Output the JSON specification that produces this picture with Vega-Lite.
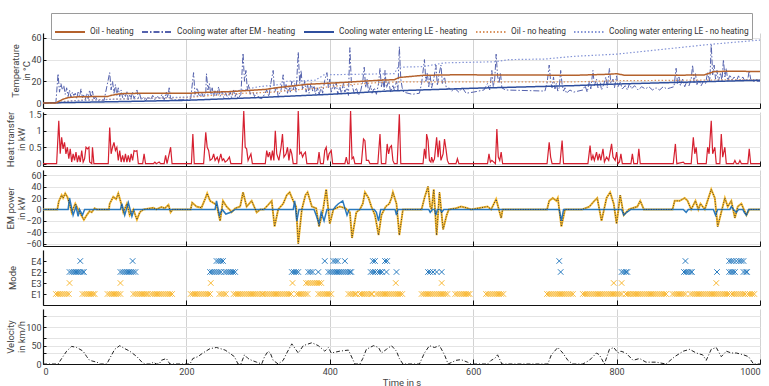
{
"$schema": "https://vega.github.io/schema/vega-lite/v6.json",
"padding": {"left": 5, "top": 12, "right": 0, "bottom": 0},
"spacing": 4,
"bounds": "flush",
"config": {
  "font": "Roboto, sans-serif",
  "view": {"stroke": null},
  "axis": {"labelFontSize": 9, "titleFontSize": 9.5, "titleFontWeight": "normal", "labelColor": "#444", "titleColor": "#444", "domainColor": "#111", "domainWidth": 1.2, "tickColor": "#111", "gridColor": "#e4e4e4"},
  "axisY": {"tickSize": -3, "labelPadding": 5, "titleBaseline": "alphabetic", "titleLineHeight": 11},
  "axisX": {"tickSize": -5, "labelPadding": 8, "gridColor": "#d2d2d2"}
},
"resolve": {"scale": {"color": "independent", "strokeDash": "independent"}, "legend": {"color": "independent", "strokeDash": "independent"}},
"datasets": {
  "emY": [
{"t":0,"v":0},{"t":20,"v":0},{"t":22,"v":14},{"t":26,"v":25},{"t":28,"v":20},{"t":31,"v":28},{"t":34,"v":22},{"t":37,"v":10},{"t":40,"v":-5},{"t":45,"v":10},{"t":51,"v":-5},{"t":57,"v":-18},{"t":61,"v":-10},{"t":65,"v":-3},{"t":68,"v":-5},{"t":72,"v":2},{"t":75,"v":0},{"t":92,"v":0},{"t":93,"v":10},{"t":98,"v":22},{"t":102,"v":18},{"t":105,"v":28},{"t":108,"v":15},{"t":112,"v":-5},{"t":117,"v":10},{"t":121,"v":-10},{"t":126,"v":0},{"t":131,"v":-18},{"t":135,"v":-5},{"t":140,"v":0},{"t":154,"v":3},{"t":158,"v":0},{"t":165,"v":4},{"t":170,"v":2},{"t":175,"v":8},{"t":178,"v":-5},{"t":181,"v":0},{"t":206,"v":0},{"t":208,"v":12},{"t":214,"v":5},{"t":221,"v":3},{"t":226,"v":18},{"t":229,"v":28},{"t":233,"v":15},{"t":237,"v":12},{"t":242,"v":8},{"t":247,"v":-20},{"t":251,"v":15},{"t":256,"v":5},{"t":260,"v":0},{"t":263,"v":-5},{"t":268,"v":2},{"t":275,"v":5},{"t":279,"v":30},{"t":284,"v":5},{"t":291,"v":15},{"t":298,"v":-5},{"t":303,"v":0},{"t":308,"v":0},{"t":314,"v":8},{"t":319,"v":15},{"t":323,"v":-30},{"t":328,"v":0},{"t":335,"v":10},{"t":340,"v":25},{"t":344,"v":30},{"t":349,"v":15},{"t":353,"v":5},{"t":356,"v":-60},{"t":361,"v":0},{"t":366,"v":25},{"t":369,"v":30},{"t":375,"v":5},{"t":381,"v":2},{"t":385,"v":-30},{"t":390,"v":-5},{"t":395,"v":35},{"t":400,"v":-25},{"t":405,"v":0},{"t":414,"v":5},{"t":422,"v":2},{"t":428,"v":-5},{"t":431,"v":-50},{"t":437,"v":-5},{"t":442,"v":0},{"t":446,"v":10},{"t":449,"v":30},{"t":454,"v":20},{"t":458,"v":5},{"t":463,"v":-10},{"t":468,"v":-45},{"t":472,"v":-10},{"t":478,"v":5},{"t":483,"v":10},{"t":486,"v":20},{"t":488,"v":30},{"t":493,"v":10},{"t":497,"v":-45},{"t":502,"v":0},{"t":528,"v":0},{"t":532,"v":20},{"t":537,"v":40},{"t":540,"v":5},{"t":542,"v":0},{"t":545,"v":35},{"t":549,"v":-45},{"t":553,"v":30},{"t":558,"v":-35},{"t":563,"v":-10},{"t":566,"v":0},{"t":576,"v":2},{"t":583,"v":5},{"t":590,"v":3},{"t":597,"v":0},{"t":620,"v":5},{"t":625,"v":0},{"t":632,"v":18},{"t":639,"v":-15},{"t":641,"v":0},{"t":703,"v":0},{"t":706,"v":15},{"t":711,"v":20},{"t":716,"v":15},{"t":718,"v":20},{"t":723,"v":-30},{"t":728,"v":0},{"t":734,"v":0},{"t":752,"v":0},{"t":762,"v":5},{"t":769,"v":15},{"t":773,"v":20},{"t":779,"v":-20},{"t":786,"v":20},{"t":791,"v":30},{"t":796,"v":10},{"t":800,"v":-25},{"t":805,"v":25},{"t":810,"v":-10},{"t":817,"v":0},{"t":829,"v":5},{"t":833,"v":15},{"t":838,"v":0},{"t":878,"v":0},{"t":881,"v":15},{"t":888,"v":15},{"t":895,"v":20},{"t":899,"v":15},{"t":904,"v":0},{"t":910,"v":15},{"t":914,"v":0},{"t":917,"v":10},{"t":923,"v":0},{"t":932,"v":35},{"t":937,"v":20},{"t":941,"v":-30},{"t":946,"v":-5},{"t":951,"v":20},{"t":955,"v":5},{"t":960,"v":15},{"t":965,"v":-15},{"t":969,"v":5},{"t":974,"v":10},{"t":981,"v":-10},{"t":985,"v":0},{"t":1000,"v":0}
  ]
},
"vconcat": [
{
  "width": 717, "height": 75,
  "encoding": {
    "x": {"field": "t", "type": "quantitative", "scale": {"domain": [0, 1000], "nice": false}, "axis": {"labels": false, "title": null, "values": [0, 200, 400, 600, 800, 1000]}},
    "y": {"field": "v", "type": "quantitative", "scale": {"domain": [-4.6, 64.5], "nice": false, "zero": false}, "axis": {"values": [0, 20, 40, 60], "title": ["Temperature", "in °C"], "titleX": -25}}
  },
  "layer": [
    {"data": {"values": [
{"t":0,"v":0},{"t":18,"v":0.5},{"t":21,"v":27},{"t":23,"v":10},{"t":25,"v":18},{"t":27,"v":12},{"t":29,"v":16},{"t":31,"v":8},{"t":33,"v":14},{"t":35,"v":6},{"t":37,"v":12},{"t":39,"v":5},{"t":41,"v":10},{"t":43,"v":7},{"t":45,"v":9},{"t":47,"v":4},{"t":49,"v":10},{"t":51,"v":6},{"t":53,"v":13},{"t":55,"v":5},{"t":57,"v":8},{"t":59,"v":3},{"t":61,"v":9},{"t":63,"v":4},{"t":65,"v":12},{"t":67,"v":5},{"t":69,"v":11},{"t":71,"v":3},{"t":73,"v":6},{"t":76,"v":2},{"t":85,"v":2},{"t":93,"v":28},{"t":95,"v":12},{"t":97,"v":20},{"t":99,"v":9},{"t":101,"v":17},{"t":103,"v":7},{"t":105,"v":14},{"t":107,"v":6},{"t":109,"v":12},{"t":111,"v":5},{"t":113,"v":9},{"t":115,"v":6},{"t":117,"v":11},{"t":119,"v":3},{"t":121,"v":8},{"t":123,"v":5},{"t":125,"v":10},{"t":127,"v":4},{"t":129,"v":7},{"t":131,"v":12},{"t":133,"v":5},{"t":135,"v":8},{"t":137,"v":3},{"t":140,"v":5},{"t":143,"v":2},{"t":147,"v":6},{"t":150,"v":3},{"t":153,"v":7},{"t":156,"v":3},{"t":160,"v":6},{"t":163,"v":4},{"t":166,"v":8},{"t":169,"v":3},{"t":172,"v":10},{"t":174,"v":5},{"t":176,"v":14},{"t":178,"v":4},{"t":185,"v":3},{"t":200,"v":3},{"t":206,"v":4},{"t":210,"v":28},{"t":212,"v":8},{"t":215,"v":14},{"t":218,"v":6},{"t":221,"v":10},{"t":224,"v":5},{"t":227,"v":9},{"t":228,"v":27},{"t":230,"v":12},{"t":232,"v":18},{"t":234,"v":8},{"t":236,"v":14},{"t":238,"v":6},{"t":240,"v":12},{"t":242,"v":7},{"t":245,"v":15},{"t":247,"v":6},{"t":250,"v":11},{"t":252,"v":5},{"t":255,"v":9},{"t":258,"v":4},{"t":261,"v":10},{"t":263,"v":5},{"t":266,"v":12},{"t":268,"v":6},{"t":270,"v":9},{"t":272,"v":4},{"t":276,"v":8},{"t":279,"v":46},{"t":281,"v":20},{"t":283,"v":30},{"t":285,"v":12},{"t":287,"v":17},{"t":289,"v":8},{"t":292,"v":12},{"t":295,"v":6},{"t":298,"v":9},{"t":301,"v":5},{"t":305,"v":4},{"t":309,"v":8},{"t":312,"v":12},{"t":315,"v":6},{"t":318,"v":19},{"t":321,"v":30},{"t":323,"v":10},{"t":326,"v":15},{"t":328,"v":6},{"t":332,"v":12},{"t":335,"v":26},{"t":337,"v":11},{"t":339,"v":17},{"t":341,"v":9},{"t":343,"v":16},{"t":345,"v":10},{"t":347,"v":20},{"t":349,"v":12},{"t":351,"v":18},{"t":353,"v":10},{"t":356,"v":47},{"t":358,"v":18},{"t":360,"v":30},{"t":362,"v":12},{"t":365,"v":20},{"t":367,"v":10},{"t":369,"v":17},{"t":371,"v":9},{"t":374,"v":19},{"t":376,"v":11},{"t":378,"v":16},{"t":380,"v":8},{"t":383,"v":14},{"t":385,"v":7},{"t":388,"v":15},{"t":390,"v":9},{"t":393,"v":21},{"t":396,"v":28},{"t":398,"v":14},{"t":400,"v":22},{"t":402,"v":10},{"t":405,"v":17},{"t":407,"v":12},{"t":409,"v":19},{"t":411,"v":8},{"t":414,"v":15},{"t":416,"v":9},{"t":419,"v":18},{"t":421,"v":10},{"t":424,"v":14},{"t":426,"v":7},{"t":428,"v":51},{"t":430,"v":20},{"t":432,"v":14},{"t":434,"v":9},{"t":437,"v":14},{"t":440,"v":7},{"t":443,"v":11},{"t":446,"v":20},{"t":448,"v":33},{"t":450,"v":14},{"t":452,"v":22},{"t":454,"v":10},{"t":457,"v":16},{"t":459,"v":9},{"t":462,"v":14},{"t":465,"v":8},{"t":468,"v":18},{"t":470,"v":32},{"t":472,"v":15},{"t":474,"v":22},{"t":476,"v":12},{"t":477,"v":30},{"t":479,"v":14},{"t":482,"v":20},{"t":485,"v":10},{"t":488,"v":16},{"t":490,"v":12},{"t":493,"v":20},{"t":495,"v":12},{"t":497,"v":52},{"t":499,"v":22},{"t":501,"v":14},{"t":503,"v":10},{"t":515,"v":8},{"t":525,"v":9},{"t":528,"v":18},{"t":532,"v":40},{"t":534,"v":20},{"t":536,"v":28},{"t":538,"v":15},{"t":540,"v":25},{"t":542,"v":14},{"t":545,"v":22},{"t":548,"v":35},{"t":550,"v":16},{"t":552,"v":25},{"t":555,"v":35},{"t":557,"v":18},{"t":560,"v":24},{"t":563,"v":12},{"t":566,"v":14},{"t":570,"v":11},{"t":575,"v":13},{"t":580,"v":10},{"t":585,"v":14},{"t":590,"v":9},{"t":600,"v":10},{"t":615,"v":12},{"t":620,"v":18},{"t":623,"v":12},{"t":626,"v":30},{"t":628,"v":15},{"t":630,"v":22},{"t":632,"v":45},{"t":634,"v":25},{"t":636,"v":18},{"t":638,"v":28},{"t":640,"v":14},{"t":645,"v":12},{"t":700,"v":11},{"t":703,"v":18},{"t":706,"v":35},{"t":708,"v":20},{"t":710,"v":14},{"t":712,"v":24},{"t":714,"v":13},{"t":716,"v":18},{"t":718,"v":11},{"t":720,"v":14},{"t":722,"v":30},{"t":724,"v":17},{"t":726,"v":11},{"t":728,"v":14},{"t":730,"v":9},{"t":735,"v":12},{"t":740,"v":10},{"t":753,"v":12},{"t":756,"v":16},{"t":759,"v":10},{"t":762,"v":20},{"t":764,"v":13},{"t":767,"v":30},{"t":769,"v":16},{"t":772,"v":22},{"t":774,"v":14},{"t":777,"v":19},{"t":779,"v":12},{"t":782,"v":17},{"t":785,"v":24},{"t":787,"v":14},{"t":790,"v":32},{"t":792,"v":18},{"t":795,"v":22},{"t":797,"v":14},{"t":800,"v":25},{"t":802,"v":15},{"t":805,"v":19},{"t":808,"v":13},{"t":812,"v":16},{"t":815,"v":12},{"t":818,"v":18},{"t":821,"v":13},{"t":825,"v":16},{"t":830,"v":12},{"t":835,"v":15},{"t":840,"v":13},{"t":845,"v":15},{"t":850,"v":12},{"t":855,"v":14},{"t":860,"v":12},{"t":865,"v":15},{"t":870,"v":13},{"t":875,"v":14},{"t":880,"v":15},{"t":883,"v":32},{"t":885,"v":18},{"t":887,"v":24},{"t":889,"v":16},{"t":892,"v":22},{"t":895,"v":15},{"t":898,"v":20},{"t":901,"v":16},{"t":904,"v":22},{"t":906,"v":35},{"t":908,"v":19},{"t":910,"v":27},{"t":912,"v":17},{"t":915,"v":21},{"t":918,"v":16},{"t":921,"v":20},{"t":924,"v":18},{"t":927,"v":28},{"t":930,"v":20},{"t":932,"v":54},{"t":934,"v":26},{"t":936,"v":35},{"t":938,"v":22},{"t":940,"v":30},{"t":942,"v":20},{"t":945,"v":28},{"t":947,"v":20},{"t":949,"v":40},{"t":951,"v":24},{"t":953,"v":32},{"t":955,"v":20},{"t":958,"v":26},{"t":961,"v":21},{"t":964,"v":24},{"t":967,"v":20},{"t":970,"v":25},{"t":973,"v":21},{"t":976,"v":24},{"t":979,"v":20},{"t":983,"v":22},{"t":985,"v":30},{"t":987,"v":22},{"t":990,"v":20},{"t":1000,"v":20}
    ]},
     "mark": {"type": "line", "strokeWidth": 1},
     "encoding": {
       "color": {"datum": "Cooling water after EM - heating", "type": "nominal",
         "scale": {"domain": ["Oil - heating", "Cooling water after EM - heating", "Cooling water entering LE - heating", "Oil - no heating", "Cooling water entering LE - no heating"], "range": ["#b4622d", "#5562ad", "#2f4f9e", "#d9925e", "#8494d6"]},
         "legend": {"title": null, "orient": "none", "legendX": 8, "legendY": -20, "direction": "horizontal", "symbolType": "stroke", "symbolSize": 900, "symbolStrokeWidth": 2, "labelFontSize": 8.3, "labelColor": "#333", "labelOffset": 4, "columnPadding": 4, "padding": 3, "strokeColor": "#9a9a9a", "fillColor": "#ffffff"}},
       "strokeDash": {"datum": "Cooling water after EM - heating", "type": "nominal",
         "scale": {"domain": ["Oil - heating", "Cooling water after EM - heating", "Cooling water entering LE - heating", "Oil - no heating", "Cooling water entering LE - no heating"], "range": [[1, 0], [6, 2, 1.5, 2], [1, 0], [1.5, 2], [1.5, 2]]},
         "legend": {"title": null, "orient": "none", "legendX": 8, "legendY": -20, "direction": "horizontal", "symbolType": "stroke", "symbolSize": 900, "symbolStrokeWidth": 2, "labelFontSize": 8.3, "labelColor": "#333", "labelOffset": 4, "columnPadding": 4, "padding": 3, "strokeColor": "#9a9a9a", "fillColor": "#ffffff"}}
     }},
    {"data": {"values": [
{"t":0,"v":0},{"t":20,"v":0},{"t":30,"v":1.5},{"t":50,"v":2.5},{"t":100,"v":3.5},{"t":150,"v":4.5},{"t":200,"v":5},{"t":235,"v":7},{"t":280,"v":9},{"t":320,"v":10},{"t":350,"v":12},{"t":380,"v":13.5},{"t":400,"v":15},{"t":430,"v":17},{"t":470,"v":19},{"t":500,"v":19.5},{"t":740,"v":19.5},{"t":800,"v":20.5},{"t":1000,"v":21.5}
    ]},
     "mark": {"type": "line", "strokeWidth": 1.2},
     "encoding": {"color": {"datum": "Oil - no heating", "type": "nominal"}, "strokeDash": {"datum": "Oil - no heating", "type": "nominal"}}},
    {"data": {"values": [
{"t":0,"v":0},{"t":20,"v":0},{"t":40,"v":2},{"t":100,"v":3.5},{"t":200,"v":5.5},{"t":230,"v":8},{"t":280,"v":12},{"t":300,"v":15},{"t":330,"v":17},{"t":340,"v":20},{"t":380,"v":21},{"t":392,"v":26},{"t":490,"v":27},{"t":495,"v":33},{"t":530,"v":33.5},{"t":560,"v":37},{"t":630,"v":38},{"t":650,"v":40},{"t":700,"v":40.5},{"t":740,"v":43},{"t":800,"v":45},{"t":930,"v":54},{"t":1000,"v":58}
    ]},
     "mark": {"type": "line", "strokeWidth": 1.2},
     "encoding": {"color": {"datum": "Cooling water entering LE - no heating", "type": "nominal"}, "strokeDash": {"datum": "Cooling water entering LE - no heating", "type": "nominal"}}},
    {"data": {"values": [
{"t":0,"v":0},{"t":20,"v":0.3},{"t":100,"v":1.2},{"t":200,"v":2.5},{"t":300,"v":5},{"t":400,"v":8},{"t":480,"v":11},{"t":600,"v":13.6},{"t":740,"v":16},{"t":800,"v":17.5},{"t":1000,"v":21}
    ]},
     "mark": {"type": "line", "strokeWidth": 1.5},
     "encoding": {"color": {"datum": "Cooling water entering LE - heating", "type": "nominal"}, "strokeDash": {"datum": "Cooling water entering LE - heating", "type": "nominal"}}},
    {"data": {"values": [
{"t":0,"v":0},{"t":18,"v":0},{"t":22,"v":1.5},{"t":28,"v":3.5},{"t":35,"v":5},{"t":50,"v":5.8},{"t":90,"v":6},{"t":95,"v":7},{"t":105,"v":8.3},{"t":115,"v":8.8},{"t":150,"v":9},{"t":205,"v":9},{"t":215,"v":9.5},{"t":235,"v":10},{"t":260,"v":10.5},{"t":290,"v":11.7},{"t":310,"v":12.5},{"t":325,"v":14},{"t":345,"v":15.5},{"t":370,"v":17.3},{"t":398,"v":18.2},{"t":420,"v":19},{"t":444,"v":20},{"t":470,"v":21},{"t":490,"v":21.5},{"t":497,"v":23.5},{"t":530,"v":25.5},{"t":575,"v":26},{"t":650,"v":25.8},{"t":744,"v":25.6},{"t":790,"v":26.5},{"t":800,"v":27},{"t":811,"v":25.6},{"t":876,"v":25.6},{"t":922,"v":25.8},{"t":936,"v":29},{"t":960,"v":29.3},{"t":1000,"v":29}
    ]},
     "mark": {"type": "line", "strokeWidth": 1.5},
     "encoding": {"color": {"datum": "Oil - heating", "type": "nominal"}, "strokeDash": {"datum": "Oil - heating", "type": "nominal"}}}
  ]
},
{
  "width": 717, "height": 54,
  "data": {"values": [
{"t":0,"v":0},{"t":19,"v":0},{"t":22,"v":1.3},{"t":24,"v":0.3},{"t":26,"v":0.8},{"t":28,"v":0.45},{"t":30,"v":0.65},{"t":32,"v":0.3},{"t":34,"v":0.5},{"t":36,"v":0.15},{"t":38,"v":0.45},{"t":40,"v":0.05},{"t":42,"v":0.3},{"t":44,"v":0.1},{"t":46,"v":0.35},{"t":48,"v":0.05},{"t":50,"v":0.25},{"t":52,"v":0.05},{"t":54,"v":0.4},{"t":56,"v":0.05},{"t":58,"v":0.15},{"t":60,"v":0.5},{"t":62,"v":0.45},{"t":64,"v":0.5},{"t":65,"v":0.05},{"t":68,"v":0},{"t":69,"v":0.5},{"t":71,"v":0},{"t":91,"v":0},{"t":93,"v":1.1},{"t":95,"v":0.3},{"t":97,"v":0.5},{"t":99,"v":0.65},{"t":101,"v":0.4},{"t":103,"v":0.5},{"t":105,"v":0.1},{"t":107,"v":0.4},{"t":109,"v":0.05},{"t":111,"v":0.25},{"t":113,"v":0.05},{"t":115,"v":0.3},{"t":117,"v":0.05},{"t":119,"v":0.25},{"t":121,"v":0.05},{"t":123,"v":0.3},{"t":125,"v":0.1},{"t":127,"v":0.4},{"t":129,"v":0.38},{"t":131,"v":0.4},{"t":133,"v":0},{"t":139,"v":0},{"t":141,"v":0.3},{"t":143,"v":0},{"t":154,"v":0},{"t":156,"v":0.05},{"t":158,"v":0},{"t":162,"v":0.05},{"t":164,"v":0},{"t":169,"v":0},{"t":171,"v":0.25},{"t":173,"v":0},{"t":176,"v":0.3},{"t":178,"v":0.5},{"t":180,"v":0},{"t":207,"v":0},{"t":209,"v":0.9},{"t":211,"v":0},{"t":224,"v":0},{"t":227,"v":0.95},{"t":229,"v":0.5},{"t":231,"v":0.4},{"t":233,"v":0.1},{"t":236,"v":0.15},{"t":238,"v":0.3},{"t":240,"v":0.1},{"t":243,"v":0.2},{"t":245,"v":0.05},{"t":248,"v":0.3},{"t":250,"v":0.1},{"t":252,"v":0.15},{"t":254,"v":0.05},{"t":257,"v":0.1},{"t":260,"v":0.2},{"t":262,"v":0},{"t":277,"v":0},{"t":280,"v":1.6},{"t":282,"v":0.5},{"t":284,"v":0.45},{"t":286,"v":0.1},{"t":290,"v":0.3},{"t":292,"v":0},{"t":310,"v":0},{"t":312,"v":0.4},{"t":314,"v":0.2},{"t":316,"v":0.35},{"t":318,"v":0.1},{"t":320,"v":0.4},{"t":322,"v":0.1},{"t":324,"v":1.0},{"t":326,"v":0.3},{"t":329,"v":0.1},{"t":332,"v":0.5},{"t":334,"v":0.9},{"t":336,"v":0.2},{"t":339,"v":0.3},{"t":341,"v":0.5},{"t":343,"v":0.1},{"t":345,"v":0.45},{"t":347,"v":0.3},{"t":349,"v":0},{"t":354,"v":0},{"t":356,"v":1.6},{"t":358,"v":0.3},{"t":360,"v":0.35},{"t":362,"v":0.2},{"t":364,"v":0.3},{"t":366,"v":0.35},{"t":368,"v":0},{"t":383,"v":0},{"t":385,"v":0.35},{"t":387,"v":0},{"t":391,"v":0},{"t":393,"v":0.4},{"t":395,"v":0.5},{"t":397,"v":0.1},{"t":399,"v":0.3},{"t":402,"v":0.4},{"t":404,"v":0},{"t":421,"v":0},{"t":423,"v":0.2},{"t":425,"v":0},{"t":427,"v":0},{"t":429,"v":1.6},{"t":431,"v":0.15},{"t":433,"v":0.2},{"t":435,"v":0},{"t":444,"v":0},{"t":447,"v":0.75},{"t":449,"v":0.7},{"t":451,"v":0.1},{"t":454,"v":0.1},{"t":456,"v":0},{"t":467,"v":0},{"t":470,"v":0.9},{"t":472,"v":0},{"t":478,"v":0},{"t":480,"v":0.6},{"t":482,"v":0.3},{"t":484,"v":0.5},{"t":486,"v":0.55},{"t":488,"v":0.1},{"t":490,"v":0},{"t":494,"v":0},{"t":497,"v":1.5},{"t":499,"v":0},{"t":530,"v":0},{"t":532,"v":0.45},{"t":534,"v":0.15},{"t":535,"v":0.9},{"t":537,"v":0.7},{"t":539,"v":0.1},{"t":541,"v":0.05},{"t":542,"v":0.2},{"t":544,"v":0.05},{"t":546,"v":0.15},{"t":549,"v":0.8},{"t":551,"v":0.2},{"t":553,"v":0.7},{"t":555,"v":0.1},{"t":558,"v":0.3},{"t":560,"v":0.75},{"t":562,"v":0.45},{"t":564,"v":0.1},{"t":566,"v":0},{"t":576,"v":0},{"t":578,"v":0.15},{"t":580,"v":0},{"t":620,"v":0},{"t":622,"v":0.3},{"t":624,"v":0.05},{"t":626,"v":0.1},{"t":631,"v":0},{"t":633,"v":1.05},{"t":635,"v":0.2},{"t":637,"v":0.1},{"t":639,"v":0.35},{"t":641,"v":0},{"t":703,"v":0},{"t":706,"v":0.65},{"t":708,"v":0.2},{"t":710,"v":0},{"t":721,"v":0},{"t":724,"v":0.7},{"t":726,"v":0},{"t":760,"v":0},{"t":763,"v":0.55},{"t":765,"v":0.1},{"t":767,"v":0.25},{"t":769,"v":0.1},{"t":772,"v":0.35},{"t":774,"v":0.1},{"t":776,"v":0.3},{"t":778,"v":0.1},{"t":781,"v":0.45},{"t":783,"v":0.05},{"t":786,"v":0.2},{"t":789,"v":0.1},{"t":793,"v":0.6},{"t":795,"v":0.2},{"t":798,"v":0.1},{"t":800,"v":0.35},{"t":802,"v":0},{"t":804,"v":0.05},{"t":806,"v":0.3},{"t":808,"v":0},{"t":820,"v":0},{"t":822,"v":0.3},{"t":824,"v":0},{"t":829,"v":0},{"t":831,"v":0.45},{"t":833,"v":0},{"t":879,"v":0},{"t":882,"v":0.6},{"t":884,"v":0},{"t":893,"v":0.05},{"t":895,"v":0},{"t":904,"v":0},{"t":907,"v":0.8},{"t":909,"v":0.3},{"t":911,"v":0.5},{"t":913,"v":0},{"t":925,"v":0},{"t":927,"v":0.5},{"t":929,"v":0.3},{"t":932,"v":1.3},{"t":934,"v":0.3},{"t":937,"v":0.5},{"t":939,"v":0},{"t":944,"v":0},{"t":946,"v":0.9},{"t":948,"v":0.2},{"t":951,"v":0.5},{"t":953,"v":0},{"t":963,"v":0},{"t":965,"v":0.1},{"t":967,"v":0},{"t":970,"v":0},{"t":972,"v":0.1},{"t":974,"v":0},{"t":983,"v":0},{"t":985,"v":0.45},{"t":987,"v":0},{"t":1000,"v":0}
  ]},
  "mark": {"type": "line", "color": "#d62030", "strokeWidth": 1.2},
  "encoding": {
    "x": {"field": "t", "type": "quantitative", "scale": {"domain": [0, 1000], "nice": false}, "axis": {"labels": false, "title": null, "values": [0, 200, 400, 600, 800, 1000]}},
    "y": {"field": "v", "type": "quantitative", "scale": {"domain": [-0.07, 1.57], "nice": false, "zero": false}, "axis": {"values": [0, 0.5, 1, 1.5], "format": "~g", "title": ["Heat transfer", "in kW"], "titleX": -30}}
  }
},
{
  "width": 717, "height": 76,
  "encoding": {
    "x": {"field": "t", "type": "quantitative", "scale": {"domain": [0, 1000], "nice": false}, "axis": {"labels": false, "title": null, "values": [0, 200, 400, 600, 800, 1000]}},
    "y": {"field": "v", "type": "quantitative", "scale": {"domain": [-64, 69], "nice": false, "zero": false}, "axis": {"values": [-60, -40, -20, 0, 20, 40, 60], "title": ["EM power", "in kW"], "titleX": -30}}
  },
  "layer": [
    {"data": {"name": "emY"}, "mark": {"type": "line", "color": "#f6b82c", "strokeWidth": 2}},
    {"data": {"values": [
{"t":0,"v":0},{"t":35,"v":0},{"t":37,"v":20},{"t":42,"v":-10},{"t":46,"v":5},{"t":49,"v":-12},{"t":51,"v":0},{"t":55,"v":-10},{"t":58,"v":0},{"t":108,"v":0},{"t":110,"v":10},{"t":114,"v":-10},{"t":119,"v":12},{"t":124,"v":-12},{"t":127,"v":0},{"t":240,"v":0},{"t":242,"v":15},{"t":246,"v":-10},{"t":250,"v":0},{"t":255,"v":-8},{"t":262,"v":-5},{"t":268,"v":0},{"t":349,"v":0},{"t":351,"v":15},{"t":354,"v":-20},{"t":357,"v":0},{"t":378,"v":0},{"t":381,"v":-10},{"t":385,"v":-25},{"t":388,"v":-5},{"t":392,"v":-20},{"t":396,"v":0},{"t":405,"v":0},{"t":408,"v":5},{"t":412,"v":10},{"t":418,"v":15},{"t":424,"v":-10},{"t":427,"v":0},{"t":462,"v":0},{"t":465,"v":-5},{"t":468,"v":-20},{"t":471,"v":0},{"t":491,"v":0},{"t":493,"v":-10},{"t":495,"v":0},{"t":538,"v":0},{"t":540,"v":-5},{"t":543,"v":0},{"t":546,"v":0},{"t":548,"v":-10},{"t":550,"v":0},{"t":554,"v":0},{"t":556,"v":-5},{"t":559,"v":0},{"t":720,"v":0},{"t":723,"v":-20},{"t":726,"v":0},{"t":807,"v":0},{"t":810,"v":-10},{"t":814,"v":-5},{"t":820,"v":0},{"t":893,"v":0},{"t":897,"v":-5},{"t":900,"v":0},{"t":935,"v":0},{"t":938,"v":-10},{"t":941,"v":0},{"t":958,"v":0},{"t":960,"v":5},{"t":963,"v":0},{"t":967,"v":-5},{"t":970,"v":0},{"t":976,"v":0},{"t":978,"v":-5},{"t":981,"v":-10},{"t":984,"v":0},{"t":1000,"v":0}
    ]}, "mark": {"type": "line", "color": "#2a79bd", "strokeWidth": 1.5}},
    {"data": {"name": "emY"}, "mark": {"type": "line", "color": "#333333", "strokeWidth": 0.9, "strokeDash": [1, 1.5]}}
  ]
},
{
  "width": 717, "height": 55,
  "data": {"values": [
{"t":18,"m":"E1"},{"t":21,"m":"E1"},{"t":24,"m":"E1"},{"t":27,"m":"E1"},{"t":30,"m":"E1"},{"t":33,"m":"E1"},{"t":36,"m":"E1"},
{"t":55,"m":"E1"},{"t":58,"m":"E1"},{"t":61,"m":"E1"},{"t":64,"m":"E1"},{"t":67,"m":"E1"},{"t":70,"m":"E1"},{"t":72,"m":"E1"},
{"t":90,"m":"E1"},{"t":93,"m":"E1"},{"t":96,"m":"E1"},{"t":99,"m":"E1"},{"t":102,"m":"E1"},{"t":105,"m":"E1"},{"t":108,"m":"E1"},
{"t":126,"m":"E1"},{"t":129,"m":"E1"},{"t":132,"m":"E1"},{"t":135,"m":"E1"},{"t":138,"m":"E1"},{"t":141,"m":"E1"},{"t":144,"m":"E1"},{"t":146,"m":"E1"},
{"t":150,"m":"E1"},{"t":153,"m":"E1"},{"t":156,"m":"E1"},{"t":159,"m":"E1"},{"t":162,"m":"E1"},{"t":165,"m":"E1"},{"t":168,"m":"E1"},{"t":171,"m":"E1"},{"t":174,"m":"E1"},{"t":177,"m":"E1"},{"t":180,"m":"E1"},
{"t":206,"m":"E1"},{"t":209,"m":"E1"},{"t":212,"m":"E1"},{"t":215,"m":"E1"},{"t":218,"m":"E1"},{"t":221,"m":"E1"},{"t":224,"m":"E1"},{"t":227,"m":"E1"},{"t":230,"m":"E1"},{"t":233,"m":"E1"},
{"t":246,"m":"E1"},{"t":249,"m":"E1"},{"t":252,"m":"E1"},{"t":255,"m":"E1"},
{"t":266,"m":"E1"},{"t":269,"m":"E1"},{"t":272,"m":"E1"},{"t":275,"m":"E1"},{"t":278,"m":"E1"},{"t":281,"m":"E1"},{"t":284,"m":"E1"},{"t":287,"m":"E1"},{"t":290,"m":"E1"},{"t":293,"m":"E1"},{"t":296,"m":"E1"},{"t":299,"m":"E1"},{"t":302,"m":"E1"},{"t":305,"m":"E1"},{"t":307,"m":"E1"},
{"t":310,"m":"E1"},{"t":313,"m":"E1"},{"t":316,"m":"E1"},{"t":319,"m":"E1"},{"t":322,"m":"E1"},{"t":325,"m":"E1"},{"t":328,"m":"E1"},{"t":331,"m":"E1"},{"t":334,"m":"E1"},{"t":337,"m":"E1"},{"t":340,"m":"E1"},{"t":343,"m":"E1"},{"t":346,"m":"E1"},
{"t":354,"m":"E1"},{"t":357,"m":"E1"},{"t":360,"m":"E1"},{"t":363,"m":"E1"},{"t":366,"m":"E1"},{"t":369,"m":"E1"},
{"t":384,"m":"E1"},{"t":387,"m":"E1"},{"t":390,"m":"E1"},{"t":393,"m":"E1"},{"t":396,"m":"E1"},{"t":399,"m":"E1"},{"t":402,"m":"E1"},
{"t":426,"m":"E1"},{"t":429,"m":"E1"},{"t":432,"m":"E1"},{"t":435,"m":"E1"},{"t":437,"m":"E1"},
{"t":442,"m":"E1"},{"t":445,"m":"E1"},{"t":448,"m":"E1"},{"t":451,"m":"E1"},{"t":454,"m":"E1"},{"t":457,"m":"E1"},{"t":459,"m":"E1"},
{"t":465,"m":"E1"},{"t":468,"m":"E1"},{"t":471,"m":"E1"},{"t":474,"m":"E1"},{"t":477,"m":"E1"},{"t":480,"m":"E1"},{"t":483,"m":"E1"},{"t":486,"m":"E1"},{"t":489,"m":"E1"},{"t":492,"m":"E1"},{"t":495,"m":"E1"},{"t":498,"m":"E1"},{"t":501,"m":"E1"},
{"t":528,"m":"E1"},{"t":531,"m":"E1"},{"t":534,"m":"E1"},{"t":537,"m":"E1"},{"t":540,"m":"E1"},{"t":543,"m":"E1"},{"t":546,"m":"E1"},{"t":549,"m":"E1"},{"t":552,"m":"E1"},{"t":555,"m":"E1"},{"t":558,"m":"E1"},{"t":561,"m":"E1"},{"t":564,"m":"E1"},
{"t":575,"m":"E1"},{"t":578,"m":"E1"},{"t":581,"m":"E1"},{"t":584,"m":"E1"},{"t":587,"m":"E1"},{"t":590,"m":"E1"},{"t":593,"m":"E1"},{"t":595,"m":"E1"},
{"t":618,"m":"E1"},{"t":621,"m":"E1"},{"t":624,"m":"E1"},{"t":627,"m":"E1"},{"t":630,"m":"E1"},{"t":633,"m":"E1"},{"t":636,"m":"E1"},{"t":639,"m":"E1"},{"t":642,"m":"E1"},
{"t":703,"m":"E1"},{"t":706,"m":"E1"},{"t":709,"m":"E1"},{"t":712,"m":"E1"},{"t":715,"m":"E1"},{"t":718,"m":"E1"},{"t":721,"m":"E1"},{"t":724,"m":"E1"},{"t":727,"m":"E1"},{"t":730,"m":"E1"},{"t":733,"m":"E1"},{"t":736,"m":"E1"},{"t":739,"m":"E1"},
{"t":753,"m":"E1"},{"t":756,"m":"E1"},{"t":759,"m":"E1"},{"t":762,"m":"E1"},{"t":765,"m":"E1"},{"t":768,"m":"E1"},{"t":771,"m":"E1"},{"t":774,"m":"E1"},{"t":777,"m":"E1"},{"t":780,"m":"E1"},{"t":783,"m":"E1"},{"t":786,"m":"E1"},{"t":789,"m":"E1"},{"t":792,"m":"E1"},{"t":795,"m":"E1"},{"t":798,"m":"E1"},{"t":801,"m":"E1"},{"t":804,"m":"E1"},{"t":807,"m":"E1"},
{"t":813,"m":"E1"},{"t":816,"m":"E1"},{"t":819,"m":"E1"},{"t":822,"m":"E1"},{"t":824,"m":"E1"},
{"t":827,"m":"E1"},{"t":830,"m":"E1"},{"t":833,"m":"E1"},{"t":836,"m":"E1"},{"t":839,"m":"E1"},{"t":842,"m":"E1"},{"t":845,"m":"E1"},{"t":848,"m":"E1"},{"t":851,"m":"E1"},{"t":854,"m":"E1"},{"t":857,"m":"E1"},{"t":860,"m":"E1"},{"t":863,"m":"E1"},{"t":866,"m":"E1"},{"t":869,"m":"E1"},
{"t":878,"m":"E1"},{"t":881,"m":"E1"},{"t":884,"m":"E1"},{"t":887,"m":"E1"},{"t":890,"m":"E1"},{"t":893,"m":"E1"},{"t":896,"m":"E1"},
{"t":903,"m":"E1"},{"t":906,"m":"E1"},{"t":909,"m":"E1"},{"t":912,"m":"E1"},{"t":915,"m":"E1"},{"t":918,"m":"E1"},{"t":921,"m":"E1"},{"t":924,"m":"E1"},{"t":927,"m":"E1"},{"t":930,"m":"E1"},{"t":933,"m":"E1"},{"t":936,"m":"E1"},{"t":939,"m":"E1"},{"t":942,"m":"E1"},{"t":945,"m":"E1"},{"t":948,"m":"E1"},{"t":951,"m":"E1"},{"t":954,"m":"E1"},{"t":957,"m":"E1"},
{"t":961,"m":"E1"},{"t":964,"m":"E1"},{"t":967,"m":"E1"},{"t":970,"m":"E1"},{"t":973,"m":"E1"},{"t":976,"m":"E1"},{"t":979,"m":"E1"},
{"t":983,"m":"E1"},{"t":986,"m":"E1"},{"t":989,"m":"E1"},{"t":992,"m":"E1"},
{"t":37,"m":"E3"},{"t":108,"m":"E3"},{"t":234,"m":"E3"},{"t":348,"m":"E3"},{"t":367,"m":"E3"},{"t":370,"m":"E3"},{"t":373,"m":"E3"},{"t":376,"m":"E3"},{"t":379,"m":"E3"},{"t":382,"m":"E3"},{"t":385,"m":"E3"},{"t":388,"m":"E3"},{"t":492,"m":"E3"},{"t":556,"m":"E3"},{"t":796,"m":"E3"},{"t":807,"m":"E3"},{"t":939,"m":"E3"},
{"t":37,"m":"E2"},{"t":40,"m":"E2"},{"t":43,"m":"E2"},{"t":46,"m":"E2"},{"t":49,"m":"E2"},{"t":52,"m":"E2"},{"t":55,"m":"E2"},{"t":57,"m":"E2"},
{"t":108,"m":"E2"},{"t":111,"m":"E2"},{"t":114,"m":"E2"},{"t":117,"m":"E2"},{"t":120,"m":"E2"},{"t":123,"m":"E2"},{"t":126,"m":"E2"},{"t":129,"m":"E2"},
{"t":233,"m":"E2"},{"t":236,"m":"E2"},{"t":239,"m":"E2"},{"t":242,"m":"E2"},{"t":245,"m":"E2"},{"t":248,"m":"E2"},
{"t":253,"m":"E2"},{"t":256,"m":"E2"},{"t":259,"m":"E2"},{"t":262,"m":"E2"},{"t":265,"m":"E2"},{"t":268,"m":"E2"},
{"t":347,"m":"E2"},{"t":350,"m":"E2"},{"t":353,"m":"E2"},{"t":356,"m":"E2"},{"t":370,"m":"E2"},{"t":373,"m":"E2"},{"t":376,"m":"E2"},{"t":384,"m":"E2"},{"t":398,"m":"E2"},{"t":401,"m":"E2"},{"t":404,"m":"E2"},
{"t":407,"m":"E2"},{"t":410,"m":"E2"},{"t":413,"m":"E2"},{"t":416,"m":"E2"},{"t":419,"m":"E2"},{"t":422,"m":"E2"},{"t":425,"m":"E2"},{"t":428,"m":"E2"},{"t":430,"m":"E2"},
{"t":457,"m":"E2"},{"t":460,"m":"E2"},{"t":463,"m":"E2"},{"t":467,"m":"E2"},{"t":470,"m":"E2"},{"t":473,"m":"E2"},{"t":479,"m":"E2"},{"t":493,"m":"E2"},
{"t":537,"m":"E2"},{"t":540,"m":"E2"},{"t":544,"m":"E2"},{"t":549,"m":"E2"},{"t":556,"m":"E2"},{"t":722,"m":"E2"},
{"t":807,"m":"E2"},{"t":810,"m":"E2"},{"t":813,"m":"E2"},{"t":815,"m":"E2"},{"t":894,"m":"E2"},{"t":897,"m":"E2"},{"t":900,"m":"E2"},{"t":903,"m":"E2"},{"t":905,"m":"E2"},{"t":940,"m":"E2"},{"t":957,"m":"E2"},{"t":960,"m":"E2"},{"t":962,"m":"E2"},{"t":965,"m":"E2"},{"t":977,"m":"E2"},{"t":980,"m":"E2"},{"t":982,"m":"E2"},
{"t":52,"m":"E4"},{"t":125,"m":"E4"},{"t":242,"m":"E4"},{"t":245,"m":"E4"},{"t":248,"m":"E4"},{"t":251,"m":"E4"},{"t":393,"m":"E4"},{"t":405,"m":"E4"},{"t":408,"m":"E4"},{"t":411,"m":"E4"},{"t":421,"m":"E4"},{"t":460,"m":"E4"},{"t":463,"m":"E4"},{"t":477,"m":"E4"},{"t":480,"m":"E4"},{"t":720,"m":"E4"},{"t":896,"m":"E4"},{"t":957,"m":"E4"},{"t":960,"m":"E4"},{"t":963,"m":"E4"},{"t":967,"m":"E4"},{"t":971,"m":"E4"},{"t":974,"m":"E4"},{"t":977,"m":"E4"}
  ]},
  "mark": {"type": "point", "shape": "M-1,-1L1,1M-1,1L1,-1", "filled": false, "size": 30, "strokeWidth": 1, "opacity": 1},
  "encoding": {
    "x": {"field": "t", "type": "quantitative", "scale": {"domain": [0, 1000], "nice": false}, "axis": {"labels": false, "title": null, "values": [0, 200, 400, 600, 800, 1000]}},
    "y": {"field": "m", "type": "ordinal", "scale": {"type": "point", "domain": ["E4", "E2", "E3", "E1"], "padding": 1}, "axis": {"title": "Mode", "titleX": -28}},
    "color": {"field": "m", "type": "nominal", "scale": {"domain": ["E1", "E2", "E3", "E4"], "range": ["#f9b935", "#2a7cc0", "#f9b935", "#2a7cc0"]}, "legend": null}
  }
},
{
  "width": 717, "height": 55,
  "data": {"values": [
{"t":0,"v":0},{"t":21,"v":0},{"t":26,"v":15},{"t":33,"v":35},{"t":40,"v":48},{"t":47,"v":45},{"t":56,"v":35},{"t":61,"v":20},{"t":65,"v":10},{"t":75,"v":5},{"t":80,"v":0},{"t":89,"v":0},{"t":93,"v":15},{"t":100,"v":40},{"t":107,"v":50},{"t":114,"v":42},{"t":121,"v":35},{"t":131,"v":20},{"t":138,"v":5},{"t":142,"v":0},{"t":150,"v":0},{"t":154,"v":5},{"t":158,"v":0},{"t":162,"v":0},{"t":165,"v":10},{"t":172,"v":15},{"t":177,"v":0},{"t":205,"v":0},{"t":209,"v":15},{"t":216,"v":20},{"t":223,"v":30},{"t":233,"v":42},{"t":242,"v":45},{"t":254,"v":38},{"t":260,"v":30},{"t":267,"v":20},{"t":272,"v":0},{"t":276,"v":0},{"t":281,"v":25},{"t":286,"v":15},{"t":291,"v":10},{"t":298,"v":5},{"t":305,"v":0},{"t":309,"v":20},{"t":314,"v":35},{"t":317,"v":30},{"t":321,"v":10},{"t":328,"v":0},{"t":335,"v":10},{"t":340,"v":30},{"t":347,"v":55},{"t":356,"v":30},{"t":363,"v":50},{"t":375,"v":58},{"t":384,"v":50},{"t":393,"v":35},{"t":398,"v":45},{"t":402,"v":30},{"t":414,"v":35},{"t":426,"v":38},{"t":435,"v":0},{"t":442,"v":0},{"t":446,"v":15},{"t":451,"v":40},{"t":461,"v":50},{"t":468,"v":45},{"t":472,"v":30},{"t":479,"v":40},{"t":486,"v":50},{"t":493,"v":35},{"t":497,"v":15},{"t":502,"v":0},{"t":525,"v":0},{"t":532,"v":30},{"t":539,"v":50},{"t":546,"v":45},{"t":553,"v":50},{"t":560,"v":25},{"t":565,"v":0},{"t":576,"v":10},{"t":583,"v":12},{"t":592,"v":5},{"t":597,"v":0},{"t":620,"v":0},{"t":625,"v":10},{"t":630,"v":15},{"t":634,"v":25},{"t":640,"v":0},{"t":704,"v":0},{"t":709,"v":25},{"t":718,"v":45},{"t":725,"v":30},{"t":732,"v":10},{"t":739,"v":0},{"t":753,"v":0},{"t":762,"v":10},{"t":772,"v":30},{"t":776,"v":25},{"t":783,"v":0},{"t":790,"v":40},{"t":796,"v":45},{"t":802,"v":30},{"t":806,"v":35},{"t":813,"v":30},{"t":823,"v":10},{"t":832,"v":15},{"t":841,"v":5},{"t":855,"v":5},{"t":869,"v":0},{"t":881,"v":20},{"t":893,"v":35},{"t":902,"v":40},{"t":911,"v":30},{"t":920,"v":25},{"t":925,"v":10},{"t":932,"v":40},{"t":939,"v":45},{"t":946,"v":20},{"t":953,"v":35},{"t":960,"v":30},{"t":967,"v":30},{"t":977,"v":25},{"t":984,"v":20},{"t":991,"v":0},{"t":1000,"v":0}
  ]},
  "mark": {"type": "line", "color": "#222222", "strokeWidth": 1, "strokeDash": [4, 2, 1, 2]},
  "encoding": {
    "x": {"field": "t", "type": "quantitative", "scale": {"domain": [0, 1000], "nice": false}, "axis": {"values": [0, 200, 400, 600, 800, 1000], "format": "d", "title": "Time in s", "titleY": 18, "titleBaseline": "middle", "labelColor": "#444"}},
    "y": {"field": "v", "type": "quantitative", "scale": {"domain": [0, 150], "nice": false}, "axis": {"values": [0, 30, 50, 70, 100, 130], "title": ["Velocity", "in km/h"], "titleX": -30}}
  }
}
]
}
